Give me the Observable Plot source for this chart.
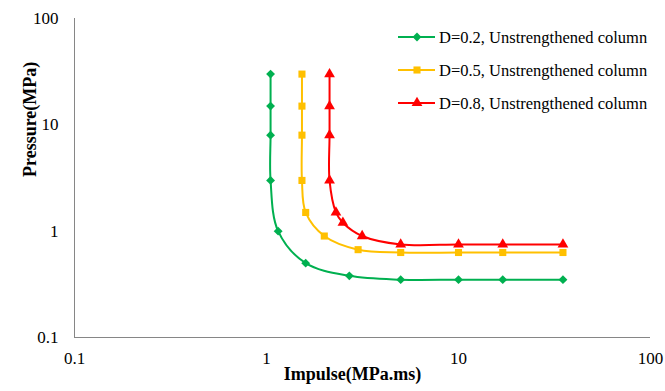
<!DOCTYPE html>
<html>
<head>
<meta charset="utf-8">
<script src="https://cdn.jsdelivr.net/npm/d3@7"></script>
<script src="https://cdn.jsdelivr.net/npm/@observablehq/plot@0.6"></script>
<style>
  html, body { margin: 0; padding: 0; background: #fff; }
  #chart { position: relative; width: 665px; height: 391px; }
</style>
</head>
<body>
<div id="chart"></div>
<script>
// ---- data ----
const seriesNames = [
  "D=0.2, Unstrengthened column",
  "D=0.5, Unstrengthened column",
  "D=0.8, Unstrengthened column"
];
const seriesColors = ["#00B050", "#FFC000", "#FF0000"];

const impulseD02 = [1.05, 1.05, 1.05, 1.05, 1.15, 1.6, 2.7, 5, 10, 17, 35];
const pressureD02 = [30, 15, 8, 3, 1.0, 0.5, 0.38, 0.35, 0.35, 0.35, 0.35];

const impulseD05 = [1.53, 1.53, 1.53, 1.53, 1.6, 2.0, 3.0, 5, 10, 17, 35];
const pressureD05 = [30, 15, 8, 3, 1.5, 0.9, 0.67, 0.63, 0.63, 0.63, 0.63];

const impulseD08 = [2.13, 2.13, 2.13, 2.13, 2.3, 2.5, 3.15, 5, 10, 17, 35];
const pressureD08 = [30, 15, 8, 3, 1.5, 1.2, 0.9, 0.75, 0.75, 0.75, 0.75];

const xTicks = [0.1, 1, 10, 100];
const xTickLabels = ["0.1", "1", "10", "100"];
const yTicks = [0.1, 1, 10, 100];
const yTickLabels = ["0.1", "1", "10", "100"];

const xTitle = "Impulse(MPa.ms)";
const yTitle = "Pressure(MPa)";

// ---- build table ----
const impulses = [impulseD02, impulseD05, impulseD08];
const pressures = [pressureD02, pressureD05, pressureD08];
const rows = [];
seriesNames.forEach((s, k) => {
  impulses[k].forEach((v, i) => rows.push({series: s, impulse: v, pressure: pressures[k][i]}));
});

const symbols = [d3.symbolDiamond2 || d3.symbolDiamond, d3.symbolSquare, d3.symbolTriangle];
const axisGray = "#868686";
const font = "'Liberation Serif', 'Times New Roman', serif";

const chart = Plot.plot({
  width: 665,
  height: 391,
  marginLeft: 74,
  marginRight: 15,
  marginTop: 18,
  marginBottom: 54,
  style: {fontFamily: font, fontSize: "17px", color: "#000", background: "#fff"},
  x: {type: "log", domain: [0.1, 100]},
  y: {type: "log", domain: [0.1, 100]},
  color: {domain: seriesNames, range: seriesColors},
  symbol: {domain: seriesNames, range: symbols},
  marks: [
    Plot.ruleX([0.1], {stroke: axisGray, strokeWidth: 1}),
    Plot.ruleY([0.1], {stroke: axisGray, strokeWidth: 1}),
    Plot.axisX({ticks: xTicks, tickFormat: d => xTickLabels[xTicks.indexOf(d)], tickSize: 0, tickPadding: 14, label: null, fontSize: 17}),
    Plot.axisY({ticks: yTicks, tickFormat: d => yTickLabels[yTicks.indexOf(d)], tickSize: 0, tickPadding: 16, label: null, fontSize: 17}),
    Plot.text([xTitle], {text: d => d, frameAnchor: "bottom", dx: -10, dy: 42, fontWeight: "bold", fontSize: 18}),
    Plot.text([yTitle], {text: d => d, frameAnchor: "left", rotate: -90, dx: -44, dy: -1, fontWeight: "bold", fontSize: 18}),
    Plot.line(rows, {x: "impulse", y: "pressure", z: "series", stroke: "series", curve: "catmull-rom", strokeWidth: 2}),
    Plot.dot(rows, {x: "impulse", y: "pressure", fill: "series", symbol: "series", r: 4})
  ]
});

document.getElementById("chart").appendChild(chart);

// ---- legend (inside the svg, top right) ----
const svg = d3.select(chart);
const lg = svg.append("g").attr("font-family", font).attr("font-size", 16.5).attr("text-anchor", "start");
seriesNames.forEach((s, i) => {
  const gy = 37 + i * 33;
  const g = lg.append("g").attr("transform", `translate(0,${gy})`);
  g.append("line").attr("x1", 398).attr("x2", 435).attr("y1", 0).attr("y2", 0)
    .attr("stroke", seriesColors[i]).attr("stroke-width", 2);
  g.append("path").attr("d", d3.symbol(symbols[i], 4 * 4 * Math.PI)())
    .attr("transform", "translate(417,0)").attr("fill", seriesColors[i]);
  g.append("text").attr("x", 439).attr("y", 0).attr("dy", "0.35em").attr("fill", "#000").text(s);
});
</script>
</body>
</html>
